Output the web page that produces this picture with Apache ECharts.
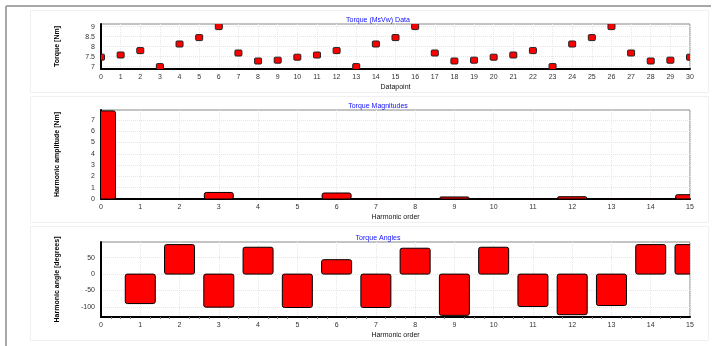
<!DOCTYPE html>
<html>
<head>
<meta charset="utf-8">
<script src="https://cdn.jsdelivr.net/npm/echarts@6/dist/echarts.min.js"></script>
<style>
  html, body {margin: 0; padding: 0; background: #fff;}
  #chart {width: 721px; height: 346px;}
</style>
</head>
<body>
<div id="chart"></div>
<script>
// torque samples, one per datapoint (0..30)
const torque = [7.47, 7.58, 7.8, 7.0, 8.13, 8.45, 9.0, 7.68, 7.28, 7.32,
                7.47, 7.58, 7.8, 7.0, 8.13, 8.45, 9.0, 7.68, 7.28, 7.32,
                7.47, 7.58, 7.8, 7.0, 8.13, 8.45, 9.0, 7.68, 7.28, 7.32, 7.47];
// harmonic orders 0..15
const orders = [0, 1, 2, 3, 4, 5, 6, 7, 8, 9, 10, 11, 12, 13, 14, 15];
const magnitudes = [7.8, 0.03, 0.03, 0.58, 0.03, 0.03, 0.53, 0.02, 0.02, 0.18, 0.02, 0.02, 0.2, 0.02, 0.02, 0.38];
// no angle drawn for the DC term
const angles = [null, -90, 90, -101, 82, -102, 44, -102, 79, -126, 82, -99, -124, -96, 90, 90];
const torqueTicks = [7, 7.5, 8, 8.5, 9];
const magnitudeTicks = [0, 1, 2, 3, 4, 5, 6, 7];
const angleTicks = [-100, -50, 0, 50];

const font = 'Liberation Sans, Arial, sans-serif';
const plotLeft = 101, plotWidth = 589;

const chart = echarts.init(document.getElementById('chart'));

function xAxis (grid, max, name){
    return {
        type: 'value', gridIndex: grid, min: 0, max: max, interval: 1,
        name: name, nameLocation: 'middle', nameGap: 15,
        nameTextStyle: {fontFamily: font, fontSize: 7, color: '#111'},
        axisLine: {onZero: false, lineStyle: {color: '#000', width: 2}},
        axisTick: {show: false},
        minorTick: {show: grid === 2, splitNumber: 4, length: 2, lineStyle: {color: '#777'}},
        axisLabel: {fontFamily: font, fontSize: 7, color: '#333', margin: 5},
        splitLine: {show: true, lineStyle: {color: '#e6e6e6', type: 'dotted'}}
    };
}

function yAxis (grid, min, max, ticks, name){
    return {
        type: 'value', gridIndex: grid, min: min, max: max,
        name: name, nameLocation: 'middle', nameGap: 40, nameRotate: 90,
        nameTextStyle: {fontFamily: font, fontSize: 7, color: '#000', fontWeight: 'bold'},
        axisLine: {show: true, onZero: false, lineStyle: {color: '#000', width: 2}},
        axisTick: {show: false, customValues: ticks},
        axisLabel: {fontFamily: font, fontSize: 7, color: '#333', margin: 6, customValues: ticks},
        splitLine: {show: true, lineStyle: {color: '#e6e6e6', type: 'dotted'}}
    };
}

// bar drawn from zero to the value, fixed pixel width, clipped by the grid
function barItem (width){
    return function (params, api){
        const x = api.value(0), y = api.value(1);
        if (isNaN(y)) return null;
        const top = api.coord([x, y]);
        const base = api.coord([x, 0]);
        return {
            type: 'rect',
            shape: {x: top[0] - width / 2, y: Math.min(top[1], base[1]), width: width, height: Math.abs(base[1] - top[1]), r: 2},
            style: {fill: '#ff0000', stroke: '#000', lineWidth: 1}
        };
    };
}

function markerItem (params, api){
    const p = api.coord([api.value(0), api.value(1)]);
    return {
        type: 'rect',
        shape: {x: p[0] - 3.5, y: p[1] - 3, width: 7, height: 6, r: 1},
        style: {fill: '#ff0000', stroke: '#222', lineWidth: 1}
    };
}

chart.setOption({
    animation: false,
    title: [
        {text: 'Torque (MsVw) Data', left: 373, top: 12, textAlign: 'center'},
        {text: 'Torque Magnitudes', left: 373, top: 98, textAlign: 'center'},
        {text: 'Torque Angles', left: 373, top: 230, textAlign: 'center'}
    ].map(t => Object.assign(t, {textStyle: {fontFamily: font, fontSize: 7, fontWeight: 'normal', color: '#1010ff'}})),
    graphic: [
        // outer frame
        {type: 'line', shape: {x1: 6, y1: 6, x2: 711, y2: 6}, style: {stroke: '#a8a8a8', lineWidth: 2}},
        {type: 'line', shape: {x1: 6, y1: 6, x2: 6, y2: 346}, style: {stroke: '#a8a8a8', lineWidth: 2}},
        // faint panel boxes
        {type: 'rect', shape: {x: 30.5, y: 10.5, width: 678, height: 82}, style: {fill: null, stroke: '#f0f0f0'}},
        {type: 'rect', shape: {x: 30.5, y: 96.5, width: 678, height: 126}, style: {fill: null, stroke: '#f0f0f0'}},
        {type: 'rect', shape: {x: 30.5, y: 226.5, width: 678, height: 114}, style: {fill: null, stroke: '#f0f0f0'}}
    ],
    grid: [
        {left: plotLeft, top: 24, width: plotWidth, height: 45},
        {left: plotLeft, top: 110, width: plotWidth, height: 89},
        {left: plotLeft, top: 242, width: plotWidth, height: 75}
    ].map(g => Object.assign(g, {show: true, borderColor: '#888', borderWidth: 1, backgroundColor: '#fff'})),
    xAxis: [
        xAxis(0, 30, 'Datapoint'),
        xAxis(1, 15, 'Harmonic order'),
        xAxis(2, 15, 'Harmonic order')
    ],
    yAxis: [
        yAxis(0, 6.88, 9.13, torqueTicks, 'Torque [Nm]'),
        yAxis(1, 0, 7.88, magnitudeTicks, 'Harmonic amplitude [Nm]'),
        yAxis(2, -131, 98, angleTicks, 'Harmonic angle [degrees]')
    ],
    series: [
        {
            type: 'custom', xAxisIndex: 0, yAxisIndex: 0, clip: true,
            renderItem: markerItem,
            data: torque.map((v, i) => [i, v])
        },
        {
            type: 'custom', xAxisIndex: 1, yAxisIndex: 1, clip: true,
            renderItem: barItem(29),
            data: orders.map((o, i) => [o, magnitudes[i]])
        },
        {
            type: 'custom', xAxisIndex: 2, yAxisIndex: 2, clip: true,
            renderItem: barItem(30),
            data: orders.map((o, i) => [o, angles[i]])
        }
    ]
});
</script>
</body>
</html>
